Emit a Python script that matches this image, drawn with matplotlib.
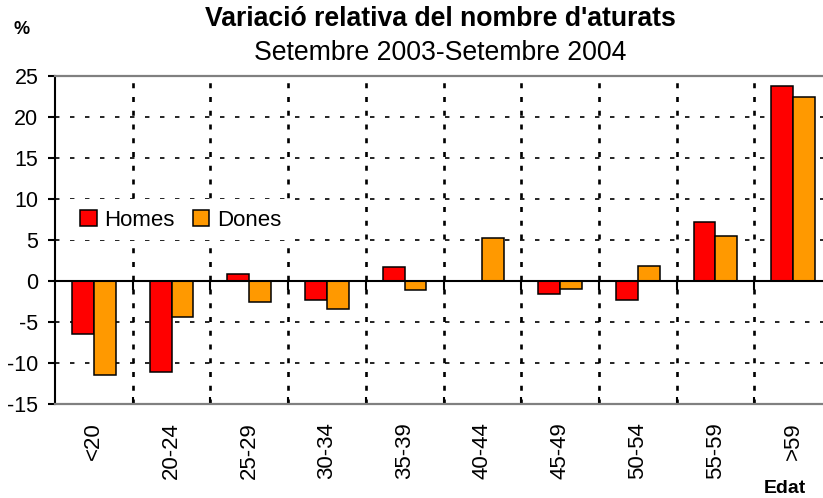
import matplotlib
matplotlib.use('Agg')
import matplotlib.pyplot as plt
import numpy as np

categories = ['<20', '20-24', '25-29', '30-34', '35-39', '40-44', '45-49', '50-54', '55-59', '>59']
homes = [-6.5, -11.1, 0.9, -2.3, 1.75, 0.0, -1.6, -2.35, 7.2, 23.75]
dones = [-11.4, -4.4, -2.5, -3.45, -1.1, 5.25, -0.95, 1.85, 5.5, 22.45]
yticks = [-15, -10, -5, 0, 5, 10, 15, 20, 25]

plt.rcParams['font.family'] = ['Liberation Sans', 'DejaVu Sans']
plt.rcParams['lines.scale_dashes'] = False

W, H = 823, 498
fig = plt.figure(figsize=(W / 100, H / 100), dpi=100)
ax = fig.add_axes([55 / W, (H - 404.3) / H, 1 - 55 / W, (404.3 - 75.7) / H])

x = np.arange(len(categories))
w = 0.28
ax.bar(x - w / 2, homes, w, color='#FF0000', edgecolor='black', linewidth=1.1, label='Homes', zorder=3)
ax.bar(x + w / 2, dones, w, color='#FF9900', edgecolor='black', linewidth=1.1, label='Dones', zorder=3)

ax.set_xlim(-0.5, 9.384)
ax.set_ylim(-15, 25)
ax.set_yticks(yticks)
ax.set_yticklabels([str(v) for v in yticks])

for yv in yticks:
    if yv in (-15, 25, 0):
        continue
    ax.axhline(yv, color='black', lw=1.2, dashes=(3.2, 7.6), zorder=1)

bounds = x[:-1] + 0.5
for xb in bounds:
    ax.axvline(xb, color='black', lw=1.9, dashes=(3.6, 6.3), zorder=1)

ax.axhline(0, color='black', lw=1.5, zorder=4)
ax.vlines(bounds, -1.1, 0, color='black', lw=1.5, zorder=4)

ax.set_xticks(bounds)
ax.set_xticklabels([])
ax.set_xticks(x, minor=True)
ax.set_xticklabels(categories, minor=True, rotation=90, fontsize=16, va='top')
ax.tick_params(axis='x', which='major', direction='in', length=5, width=1.5, color='black')
ax.tick_params(axis='x', which='minor', length=0, pad=13)
ax.tick_params(axis='y', direction='out', length=5, width=1.5, labelsize=15.5, pad=7)

ax.spines['left'].set_color('black')
ax.spines['left'].set_linewidth(1.5)
for s in ('top', 'bottom'):
    ax.spines[s].set_color('#808080')
    ax.spines[s].set_linewidth(1.6)
ax.spines['right'].set_visible(False)

leg = ax.legend(loc='center left', bbox_to_anchor=(70 / W, 1 - 220 / H), bbox_transform=fig.transFigure,
                ncol=2, frameon=True, fancybox=False, framealpha=1, facecolor='white', edgecolor='none',
                fontsize=16, handlelength=0.75, handleheight=0.75, handletextpad=0.35,
                columnspacing=0.8, borderpad=0.45, borderaxespad=0)

fig.text(440 / W, 1 - 19 / H, "Variació relativa del nombre d'aturats", ha='center', va='center',
         fontsize=19.2, fontweight='bold')
fig.text(440 / W, 1 - 53 / H, "Setembre 2003-Setembre 2004", ha='center', va='center', fontsize=19.2)
fig.text(22 / W, 1 - 30 / H, '%', ha='center', va='center', fontsize=13, fontweight='bold')
fig.text(785 / W, 1 - 488 / H, 'Edat', ha='center', va='center', fontsize=14, fontweight='bold')

fig.savefig('out.png', dpi=100)
